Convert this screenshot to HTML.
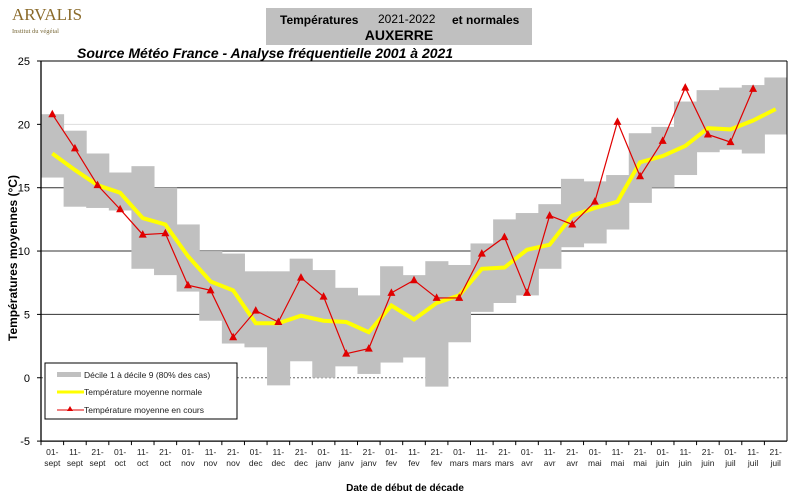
<!DOCTYPE html>
<html><head><meta charset="utf-8"><style>body{margin:0;background:#fff}svg{display:block}</style></head>
<body>
<svg id="s" width="800" height="498" xmlns="http://www.w3.org/2000/svg" font-family="Liberation Sans, sans-serif">
<text x="12" y="20" font-family="Liberation Serif, serif" font-size="17" fill="#8a6a2a">ARVALIS</text>
<text x="12" y="33" font-family="Liberation Serif, serif" font-size="6.5" fill="#7a6a3a">Institut du végétal</text>
<rect x="266" y="8" width="266" height="37" fill="#c0c0c0"/>
<text x="280" y="24" font-size="12" font-weight="bold">Températures</text>
<text x="378" y="23" font-size="12">2021-2022</text>
<text x="452" y="24" font-size="12" font-weight="bold">et normales</text>
<text x="399" y="40" font-size="14" font-weight="bold" text-anchor="middle">AUXERRE</text>
<text x="77" y="58" font-size="14" font-weight="bold" font-style="italic">Source Météo France - Analyse fréquentielle 2001 à 2021</text>
<text transform="translate(17,258) rotate(-90)" font-size="12" font-weight="bold" text-anchor="middle">Températures moyennes (°C)</text>
<text x="405" y="491" font-size="10" font-weight="bold" text-anchor="middle">Date de début de décade</text>
<g id="g"></g>
</svg>
<script>
var g=document.getElementById('g');
function Y(v){return 61+(25-v)*12.67}
var x0=41,x1=787,n=33,w=(x1-x0)/n;
function X(i){return x0+w*(i+0.5)}
var h='';
var band=[[15.8,20.8],[13.5,19.5],[13.4,17.7],[13.2,16.2],[8.6,16.7],[8.1,15.0],[6.8,12.1],[4.5,10.0],[2.7,9.8],[2.4,8.4],[-0.6,8.4],[1.3,9.4],[0,8.5],[0.9,7.1],[0.3,6.5],[1.2,8.8],[1.6,8.1],[-0.7,9.2],[2.8,8.9],[5.2,10.6],[5.9,12.5],[6.5,13.0],[8.6,13.7],[10.3,15.7],[10.6,15.5],[11.7,16.0],[13.8,19.3],[15.0,19.8],[16.0,21.8],[17.8,22.7],[18.0,22.9],[17.7,23.1],[19.2,23.7]];
var norm=[17.7,16.4,15.2,14.6,12.6,12.1,9.6,7.6,6.9,4.3,4.3,4.9,4.5,4.4,3.6,5.7,4.6,5.9,6.5,8.6,8.7,10.1,10.5,12.8,13.4,13.9,17.0,17.5,18.3,19.7,19.6,20.3,21.2];
var cur=[20.8,18.1,15.2,13.3,11.3,11.4,7.3,6.9,3.2,5.3,4.4,7.9,6.4,1.9,2.3,6.7,7.7,6.3,6.3,9.8,11.1,6.7,12.8,12.1,13.9,20.2,15.9,18.7,22.9,19.2,18.6,22.8];
[[20,'#ddd'],[15,'#333'],[10,'#333'],[5,'#333']].forEach(function(a){h+='<line x1="'+x0+'" x2="'+x1+'" y1="'+Y(a[0])+'" y2="'+Y(a[0])+'" stroke="'+a[1]+'" stroke-width="1"/>'});
h+='<line x1="'+x0+'" x2="'+x1+'" y1="'+Y(0)+'" y2="'+Y(0)+'" stroke="#666" stroke-dasharray="2,2"/>';
band.forEach(function(b,i){h+='<rect x="'+(x0+w*i)+'" y="'+Y(b[1])+'" width="'+(w+0.5)+'" height="'+(Y(b[0])-Y(b[1]))+'" fill="#c0c0c0"/>'});
h+='<polyline fill="none" stroke="#ffff00" stroke-width="4" points="'+norm.map(function(v,i){return X(i)+','+Y(v)}).join(' ')+'"/>';
h+='<polyline fill="none" stroke="#e00000" stroke-width="1.2" points="'+cur.map(function(v,i){return X(i)+','+Y(v)}).join(' ')+'"/>';
cur.forEach(function(v,i){var x=X(i),y=Y(v);h+='<polygon points="'+x+','+(y-4.5)+' '+(x-4)+','+(y+3)+' '+(x+4)+','+(y+3)+'" fill="#e00000"/>'});
h+='<line x1="'+x0+'" x2="'+x1+'" y1="'+Y(25)+'" y2="'+Y(25)+'" stroke="#000"/>';
h+='<line x1="'+x0+'" x2="'+x0+'" y1="'+Y(25)+'" y2="'+Y(-5)+'" stroke="#000" stroke-width="1.3"/>';
h+='<line x1="'+x1+'" x2="'+x1+'" y1="'+Y(25)+'" y2="'+Y(-5)+'" stroke="#000"/>';
h+='<line x1="'+x0+'" x2="'+x1+'" y1="'+Y(-5)+'" y2="'+Y(-5)+'" stroke="#000" stroke-width="1.3"/>';
for(var v=-5;v<=25;v+=5){h+='<line x1="'+(x0-4)+'" x2="'+x0+'" y1="'+Y(v)+'" y2="'+Y(v)+'" stroke="#000"/><text x="30" y="'+(Y(v)+4)+'" font-size="11" text-anchor="end">'+v+'</text>';}
var mon=['sept','oct','nov','dec','janv','fev','mars','avr','mai','juin','juil'],d=['01-','11-','21-'];
for(var i=0;i<n;i++){var x=X(i);h+='<line x1="'+(x0+w*i)+'" x2="'+(x0+w*i)+'" y1="'+Y(-5)+'" y2="'+(Y(-5)+4)+'" stroke="#000"/>';
h+='<text x="'+x+'" y="'+(Y(-5)+14)+'" font-size="8.5" text-anchor="middle" fill="#222">'+d[i%3]+'</text><text x="'+x+'" y="'+(Y(-5)+25)+'" font-size="8.5" text-anchor="middle" fill="#222">'+mon[Math.floor(i/3)]+'</text>';}
h+='<rect x="45" y="363" width="192" height="56" fill="#fff" stroke="#000"/>';
h+='<rect x="57" y="372" width="24" height="5" fill="#c0c0c0"/><text x="84" y="378" font-size="8.5" fill="#222">Décile 1 à décile 9 (80% des cas)</text>';
h+='<line x1="57" x2="84" y1="392" y2="392" stroke="#ffff00" stroke-width="3"/><text x="84" y="395" font-size="8.5" fill="#222">Température moyenne normale</text>';
h+='<line x1="57" x2="84" y1="410" y2="410" stroke="#e00000"/><polygon points="70,406 67,411 73,411" fill="#e00000"/><text x="84" y="413" font-size="8.5" fill="#222">Température moyenne en cours</text>';
g.innerHTML=h;
</script>
</body></html>
